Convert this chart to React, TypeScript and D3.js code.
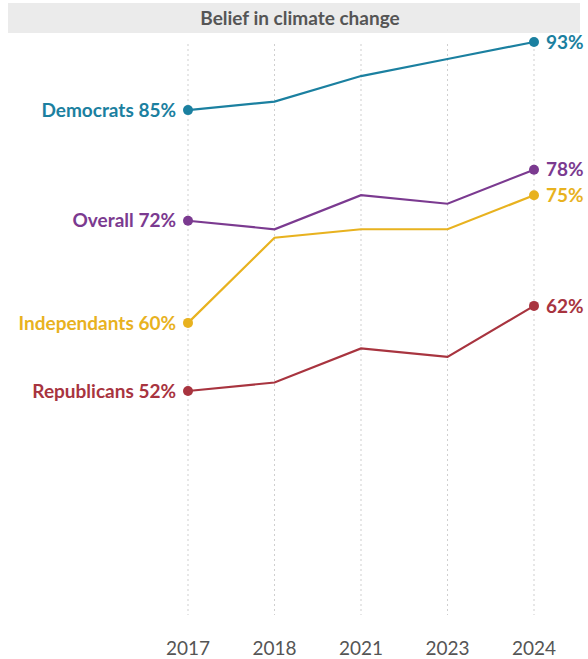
import React from "react";
import * as d3 from "d3";

const years = ["2017", "2018", "2021", "2023", "2024"];
const seriesNames = ["Democrats", "Overall", "Independants", "Republicans"];
const democrats = [85, 86, 89, 91, 93];
const overall = [72, 71, 75, 74, 78];
const independants = [60, 70, 71, 71, 75];
const republicans = [52, 53, 57, 56, 62];
const colors = ["#1b80a0", "#7b3a90", "#e8b21f", "#a8343f"];
const title = "Belief in climate change";

const W = 588;
const H = 659;
const FONT = "Lato, 'Open Sans', sans-serif";

export default function App() {
  const values = [democrats, overall, independants, republicans];
  const x = d3.scalePoint<string>().domain(years).range([188, 534]);
  const y = d3.scaleLinear().domain([52, 93]).range([391, 42]);
  const line = d3
    .line<number>()
    .x((_, i) => x(years[i]) as number)
    .y((d) => y(d));

  return (
    <svg
      width={W}
      height={H}
      style={{ position: "absolute", left: 0, top: 0, background: "#fff" }}
      fontFamily={FONT}
    >
      <rect x={8} y={3} width={572} height={30} fill="#ebebeb" />
      <text
        x={300}
        y={18}
        dy="0.35em"
        textAnchor="middle"
        fontSize={19}
        fontWeight={700}
        fill="#555"
      >
        {title}
      </text>
      {years.map((yr) => (
        <g key={yr}>
          <line
            x1={x(yr)}
            x2={x(yr)}
            y1={44}
            y2={615}
            stroke="#cfcfcf"
            strokeWidth={1}
            strokeDasharray="2,3"
          />
          <text
            x={x(yr)}
            y={648}
            dy="0.35em"
            textAnchor="middle"
            fontSize={19}
            fill="#555"
          >
            {yr}
          </text>
        </g>
      ))}
      {values.map((vals, si) => (
        <g key={seriesNames[si]}>
          <path
            d={line(vals) || ""}
            fill="none"
            stroke={colors[si]}
            strokeWidth={2.2}
          />
          <circle
            cx={x(years[0])}
            cy={y(vals[0])}
            r={5}
            fill={colors[si]}
          />
          <circle
            cx={x(years[years.length - 1])}
            cy={y(vals[vals.length - 1])}
            r={5}
            fill={colors[si]}
          />
          <text
            x={(x(years[0]) as number) - 12}
            y={y(vals[0])}
            dy="0.35em"
            textAnchor="end"
            fontSize={19}
            fontWeight={700}
            fill={colors[si]}
          >
            {`${seriesNames[si]} ${vals[0]}%`}
          </text>
          <text
            x={(x(years[years.length - 1]) as number) + 12}
            y={y(vals[vals.length - 1])}
            dy="0.35em"
            textAnchor="start"
            fontSize={19}
            fontWeight={700}
            fill={colors[si]}
          >
            {`${vals[vals.length - 1]}%`}
          </text>
        </g>
      ))}
    </svg>
  );
}
